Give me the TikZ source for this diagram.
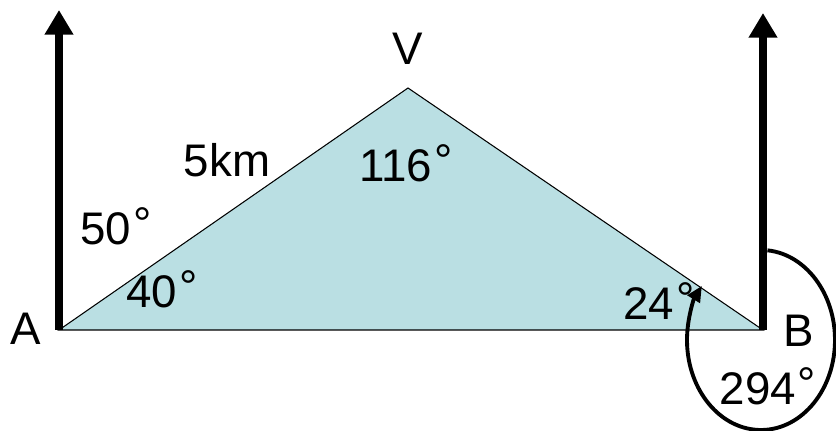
\documentclass[tikz,border=0pt]{standalone}
\usepackage{fontspec}
\setmainfont{Liberation Sans}
\usetikzlibrary{arrows.meta}
\definecolor{triblue}{RGB}{186,223,227}
\newcommand{\dg}{\kern1pt\raisebox{0.12em}{°}}

\begin{document}
\begin{tikzpicture}[x=0.02cm,y=-0.02cm,line join=miter,
  north/.style={line width=5pt,-{Triangle[length=14pt,width=15.5pt]}},
  lbl/.style={inner sep=0pt,anchor=base,font=\fontsize{26}{30}\selectfont}]
\useasboundingbox (0,0) rectangle (836,431);
\coordinate (A) at (59,330);
\coordinate (B) at (763,330);
\coordinate (V) at (408,88);
\coordinate (nA) at (59,10);
\coordinate (nB) at (763,13);
\coordinate (O) at (761,340);
\filldraw[fill=triblue,draw=black,line width=0.6pt] (A) -- (V) -- (B) -- cycle;
\draw[north] (A) -- (nA);
\draw[north] (B) -- (nB);
\draw[line width=2.2pt,-{Triangle[length=9pt,width=8pt]}] (O) ++(-85:74 and 90)
  arc[start angle=-85,end angle=217,x radius=74,y radius=90];
\node[lbl] (lA) at (26,345) {A};
\node[lbl] (lV) at (408,65) {V};
\node[lbl] (lB) at (799,347) {B};
\node[lbl] (dist) at (227,177) {5km};
\node[lbl] (a50) at (116,245) {50\dg};
\node[lbl] (a40) at (162,308) {40\dg};
\node[lbl] (a116) at (406,182) {116\dg};
\node[lbl] (a24) at (659,320) {24\dg};
\node[lbl] (a294) at (768,405) {294\dg};
\end{tikzpicture}
\end{document}
